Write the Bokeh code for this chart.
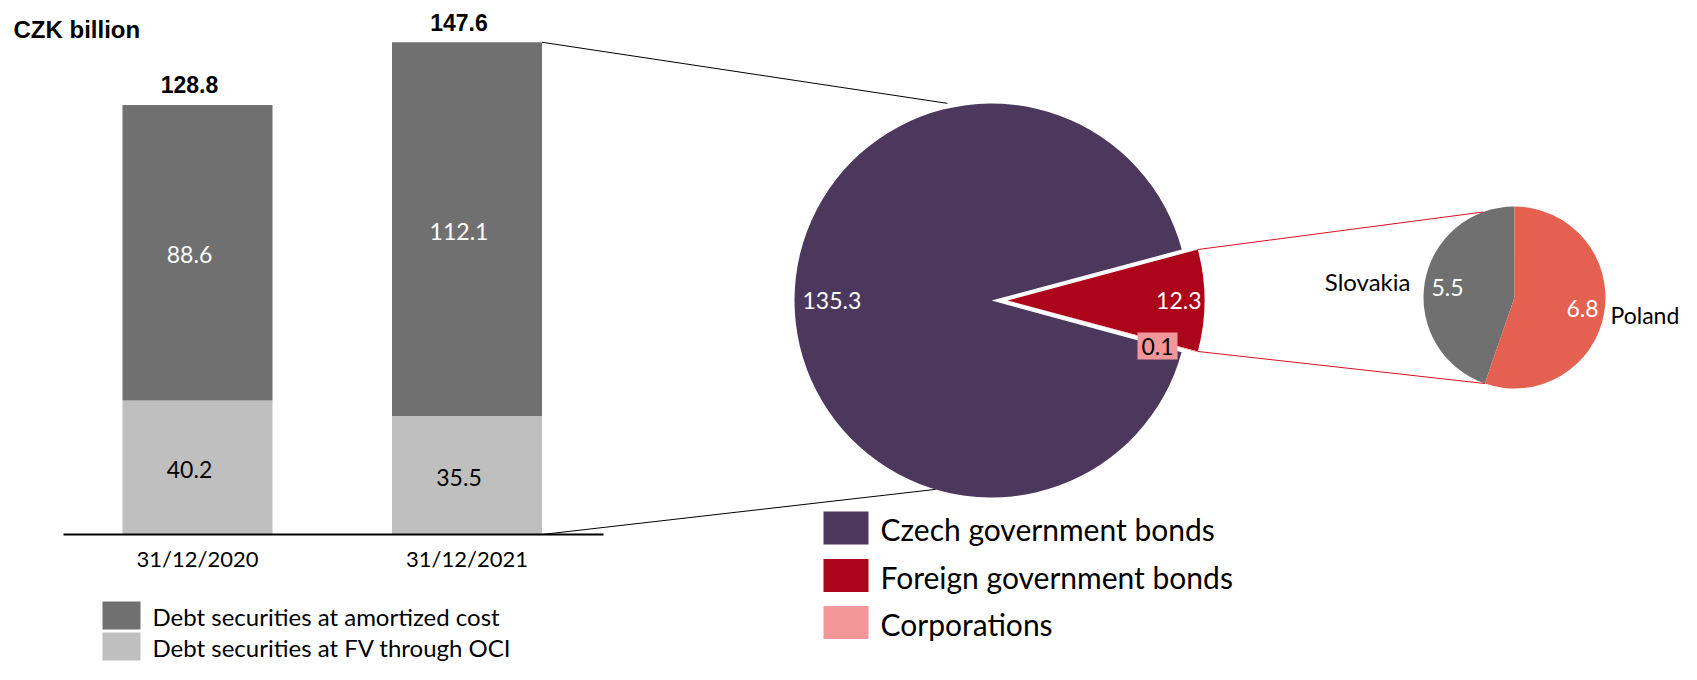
import math
from bokeh.plotting import figure
from bokeh.models import Range1d
from bokeh.core.properties import value
from bokeh.embed import file_html
from bokeh.resources import INLINE

# ---------------- data ----------------
categories = ["31/12/2020", "31/12/2021"]
amortized = [88.6, 112.1]
fv_oci = [40.2, 35.5]
totals = [128.8, 147.6]
bar_series = ["Debt securities at amortized cost", "Debt securities at FV through OCI"]

pie_labels = ["Czech government bonds", "Foreign government bonds", "Corporations"]
pie_values = [135.3, 12.3, 0.1]
pie_value_text = ["135.3", "12.3", "0.1"]

sub_labels = ["Slovakia", "Poland"]
sub_values = [5.5, 6.8]
sub_value_text = ["5.5", "6.8"]

# ---------------- style / layout ----------------
DARK = "#707070"
LIGHT = "#BFBFBF"
PURPLE = "#4D385D"
RED = "#AD0519"
PINK = "#F4979A"
POLAND = "#E46151"
SLOVAKIA = "#707070"
CONN_RED = "#D7101F"
FONT = "Lato"
BOLD_FONT = "Liberation Sans"

W, H = 1681, 664
PX_PER_UNIT = 3.335
BASE_PY = 534


def vy(py):
    return (BASE_PY - py) / PX_PER_UNIT


BAR_X = [197, 466.5]
BAR_W = 150
AXIS_X = (63, 603)

PIE_CX, PIE_CY, PIE_R = 991, 300, 197
EXPLODE = 16
SUB_CX, SUB_CY, SUB_R = 1514, 297, 91

p = figure(width=W, height=H,
           x_range=Range1d(0, W), y_range=Range1d(vy(H), vy(0)),
           output_backend="svg", toolbar_location=None,
           x_axis_location=None, y_axis_location=None, min_border=0)
p.grid.visible = False
p.outline_line_color = None
p.background_fill_color = "white"
p.border_fill_color = "white"

# ---------------- bars ----------------
tops = [a + b for a, b in zip(fv_oci, amortized)]
p.vbar(x=BAR_X, width=BAR_W, bottom=0, top=fv_oci, fill_color=LIGHT, line_color=None)
p.vbar(x=BAR_X, width=BAR_W, bottom=fv_oci, top=tops, fill_color=DARK, line_color=None)

p.segment(x0=[AXIS_X[0]], y0=[0], x1=[AXIS_X[1]], y1=[0], line_color="black", line_width=2)

p.text(x=BAR_X, y=[0, 0], text=categories, y_offset=24,
       text_font=value(FONT), text_font_size="22px", text_color="black",
       text_align="center", text_baseline="middle")

p.text(x=BAR_X, y=[v / 2 for v in fv_oci], text=[f"{v:.1f}" for v in fv_oci],
       x_offset=-8, y_offset=2, text_font=value(FONT), text_font_size="23px",
       text_color="black", text_align="center", text_baseline="middle")
p.text(x=BAR_X, y=[f + a / 2 for f, a in zip(fv_oci, amortized)],
       text=[f"{v:.1f}" for v in amortized],
       x_offset=-8, y_offset=2, text_font=value(FONT), text_font_size="23px",
       text_color="white", text_align="center", text_baseline="middle")
p.text(x=BAR_X, y=totals, text=[f"{v:.1f}" for v in totals],
       x_offset=-8, y_offset=-20, text_font=value(BOLD_FONT), text_font_size="23px",
       text_font_style="bold", text_color="black",
       text_align="center", text_baseline="middle")

p.text(x=[13], y=[vy(29)], text=["CZK billion"], text_font=value(BOLD_FONT),
       text_font_size="24px", text_font_style="bold", text_color="black",
       text_align="left", text_baseline="middle")

# bar legend
LEG1_Y = [615, 646]
p.rect(x=[121, 121], y=[vy(v) for v in LEG1_Y], width=38, height=28,
       width_units="screen", height_units="screen",
       fill_color=[DARK, LIGHT], line_color=None)
p.text(x=[152, 152], y=[vy(v + 1) for v in LEG1_Y], text=bar_series,
       text_font=value(FONT), text_font_size="24px", text_color="black",
       text_align="left", text_baseline="middle")

# ---------------- main pie ----------------
total = sum(pie_values)
th = [v / total * 2 * math.pi for v in pie_values]
f_start, f_end = -th[1] / 2, th[1] / 2
c_start, c_end = f_start - th[2], f_start
z_start, z_end = f_end, 2 * math.pi + c_start

p.wedge(x=[PIE_CX], y=[vy(PIE_CY)], radius=PIE_R, radius_units="screen",
        start_angle=[z_start], end_angle=[z_end], fill_color=PURPLE, line_color=None)
p.wedge(x=[PIE_CX + EXPLODE] * 2, y=[vy(PIE_CY)] * 2, radius=PIE_R, radius_units="screen",
        start_angle=[f_start, c_start], end_angle=[f_end, c_end],
        fill_color=[RED, PINK], line_color=None)

# pie labels
p.text(x=[PIE_CX - PIE_R + 8], y=[vy(PIE_CY)], text=[pie_value_text[0]],
       text_font=value(FONT), text_font_size="23px", text_color="white",
       text_align="left", text_baseline="middle")
p.text(x=[PIE_CX + EXPLODE + PIE_R - 3], y=[vy(PIE_CY)], text=[pie_value_text[1]],
       text_font=value(FONT), text_font_size="23px", text_color="white",
       text_align="right", text_baseline="middle")
p.rect(x=[1157], y=[vy(345.5)], width=40, height=27, width_units="screen",
       height_units="screen", fill_color=PINK, line_color=None)
p.text(x=[1157], y=[vy(346)], text=[pie_value_text[2]],
       text_font=value(FONT), text_font_size="23px", text_color="black",
       text_align="center", text_baseline="middle")

# ---------------- sub pie ----------------
sub_total = sum(sub_values)
pol_span = sub_values[1] / sub_total * 2 * math.pi
pol_start = math.pi / 2 - pol_span
p.wedge(x=[SUB_CX] * 2, y=[vy(SUB_CY)] * 2, radius=SUB_R, radius_units="screen",
        start_angle=[math.pi / 2, pol_start],
        end_angle=[pol_start + 2 * math.pi, math.pi / 2],
        fill_color=[SLOVAKIA, POLAND], line_color=None)

p.text(x=[1447, 1582], y=[vy(287), vy(308)], text=sub_value_text,
       text_font=value(FONT), text_font_size="23px", text_color="white",
       text_align="center", text_baseline="middle")
p.text(x=[1410], y=[vy(281)], text=[sub_labels[0]],
       text_font=value(FONT), text_font_size="24px", text_color="black",
       text_align="right", text_baseline="middle")
p.text(x=[1610], y=[vy(314)], text=[sub_labels[1]],
       text_font=value(FONT), text_font_size="23px", text_color="black",
       text_align="left", text_baseline="middle")

# ---------------- connectors ----------------
bar2_right = BAR_X[1] + BAR_W / 2
a_top, r_top = math.radians(102.6), 202
a_bot, r_bot = math.radians(-106.5), 197
p.segment(x0=[bar2_right, bar2_right], y0=[totals[1], 0],
          x1=[PIE_CX + r_top * math.cos(a_top), PIE_CX + r_bot * math.cos(a_bot)],
          y1=[vy(PIE_CY - r_top * math.sin(a_top)), vy(PIE_CY - r_bot * math.sin(a_bot))],
          line_color="black", line_width=1)

rx = PIE_CX + EXPLODE
s_top = math.radians(110)
p.segment(x0=[rx + PIE_R * math.cos(f_end), rx + PIE_R * math.cos(f_start)],
          y0=[vy(PIE_CY - PIE_R * math.sin(f_end)), vy(PIE_CY - PIE_R * math.sin(f_start))],
          x1=[SUB_CX + SUB_R * math.cos(s_top), SUB_CX + SUB_R * math.cos(pol_start)],
          y1=[vy(SUB_CY - SUB_R * math.sin(s_top)), vy(SUB_CY - SUB_R * math.sin(pol_start))],
          line_color=CONN_RED, line_width=1)

# pie legend
LEG2_Y = [527.5, 575, 622]
p.rect(x=[845.5] * 3, y=[vy(v) for v in LEG2_Y], width=45, height=33,
       width_units="screen", height_units="screen",
       fill_color=[PURPLE, RED, PINK], line_color=None)
p.text(x=[880] * 3, y=[vy(v + 1) for v in LEG2_Y], text=pie_labels,
       text_font=value(FONT), text_font_size="30px", text_color="black",
       text_align="left", text_baseline="middle")

open("out.html", "w").write(file_html(p, INLINE))
